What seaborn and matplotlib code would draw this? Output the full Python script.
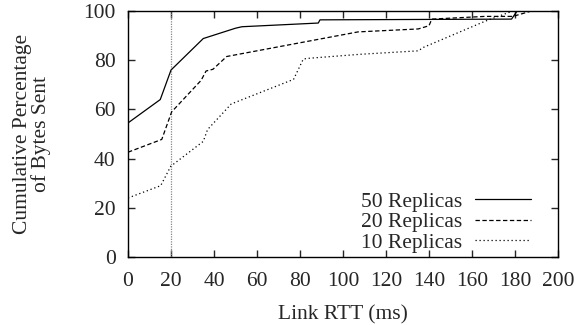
import matplotlib
matplotlib.use("Agg")
import matplotlib.pyplot as plt
import seaborn as sns
import pandas as pd

# Data
rtt_50 = [0, 15, 20, 35, 50, 53, 88.5, 89.3, 178.4, 181]
pct_50 = [54.5, 64, 76, 88.8, 93, 93.6, 95.1, 96.4, 96.7, 100]

rtt_20 = [0, 15.7, 20.3, 34, 36.3, 39.5, 45.9, 107, 135, 140, 141.3, 166, 179, 187.7]
pct_20 = [42.6, 47.8, 59, 71.8, 75.6, 76.3, 81.5, 91.5, 92.7, 94, 96.7, 97.8, 97.8, 100]

rtt_10 = [0, 15.2, 19.9, 35, 37, 48, 77, 81.5, 83, 108, 135, 137.4, 166, 179]
pct_10 = [24, 29, 36.9, 47, 51.8, 62.2, 72.2, 80.4, 80.7, 82.4, 83.8, 85.2, 95.8, 100]

labels = ["50 Replicas", "20 Replicas", "10 Replicas"]
x_ticks = [0, 20, 40, 60, 80, 100, 120, 140, 160, 180, 200]
y_ticks = [0, 20, 40, 60, 80, 100]
marker_rtt = 20

FS = 15.5
sns.set_style("ticks")
plt.rcParams["font.family"] = ["Liberation Serif", "DejaVu Serif"]
plt.rcParams["font.size"] = FS

fig = plt.figure(figsize=(5.79, 3.25), dpi=100)
ax = fig.add_axes([0.2211, 0.2092, 0.9637 - 0.2211, 0.9662 - 0.2092])

ax.axvline(marker_rtt, color="#888888", linestyle=(0, (1, 1)), linewidth=0.9, zorder=1)

series = [(rtt_50, pct_50, "-"), (rtt_20, pct_20, (0, (3.5, 2))), (rtt_10, pct_10, (0, (1, 2.2)))]
for (xs, ys, ls), lab in zip(series, labels):
    df = pd.DataFrame({"rtt": xs, "pct": ys})
    sns.lineplot(data=df, x="rtt", y="pct", ax=ax, color="black", linestyle=ls,
                 linewidth=0.9, label=lab, sort=False, estimator=None)

ax.set_xlim(0, 200)
ax.set_ylim(0, 100)
ax.set_xticks(x_ticks)
ax.set_yticks(y_ticks)
ax.tick_params(direction="in", length=5, width=1, top=True, right=True, labelsize=FS)
ax.tick_params(axis="x", pad=11)
ax.tick_params(axis="y", pad=9)
for s in ax.spines.values():
    s.set_linewidth(1.0)
    s.set_color("black")

ax.set_xlabel("Link RTT (ms)", fontsize=FS)
ax.set_ylabel("Cumulative Percentage\nof Bytes Sent", fontsize=FS, linespacing=0.95)
ax.xaxis.set_label_coords(0.5, -0.195)
ax.yaxis.set_label_coords(-0.178, 0.5)

leg = ax.legend(loc="lower right", bbox_to_anchor=(0.967, -0.035), frameon=False, markerfirst=False,
                handlelength=2.6, handletextpad=0.6, labelspacing=0.02, fontsize=FS, borderaxespad=0.2)

fig.savefig("out.png", dpi=100)
